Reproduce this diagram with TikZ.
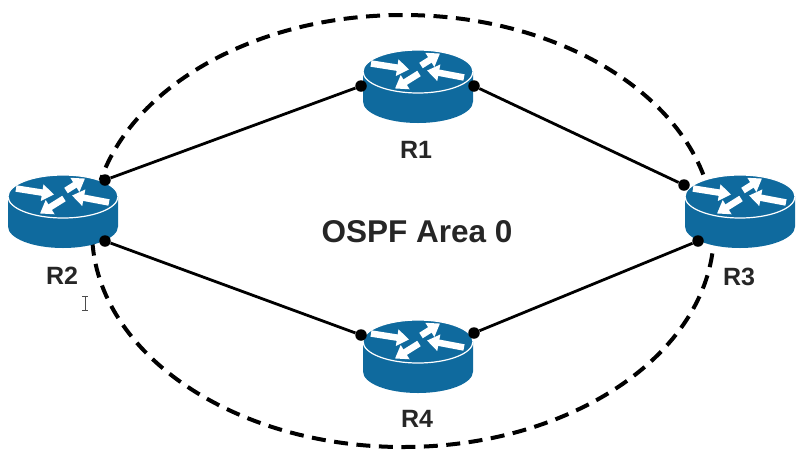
\documentclass[tikz,border=0pt]{standalone}
\usepackage{fontspec}
\setmainfont{Liberation Sans}
\usetikzlibrary{arrows.meta}
\definecolor{routerblue}{HTML}{0F6A9E}
\tikzset{
  x=1pt,y=-1pt,
  port/.style={circle,fill=black,inner sep=0pt,minimum size=11.5pt},
  link/.style={line width=2.8pt,black},
  area/.style={line width=4pt,black,dash pattern=on 14pt off 8.5pt},
  rlabel/.style={font=\bfseries\fontsize{25}{25}\selectfont,text=black!85},
  flow/.style={white,line width=6.5pt,-{Triangle[width=16pt,length=12pt]}},
  router/.pic={
    \fill[routerblue] (-55,0) -- (-55,30) arc[x radius=55,y radius=21.5,start angle=180,end angle=0] -- (55,0) -- cycle;
    \fill[routerblue,draw=white,line width=1.2pt] (0,0) ellipse[x radius=55,y radius=21.5];
    \draw[flow] (-47,-8) -- (-9,-2);
    \draw[flow] (3,-6) -- (22,-18);
    \draw[flow] (46,6) -- (9,-1);
    \draw[flow] (1,2) -- (-23,17);
  }
}
\begin{document}
\begin{tikzpicture}
\useasboundingbox (0,0) rectangle (803,459);
\draw[area] (403,231) ellipse[x radius=311,y radius=216];
\pic (r1) at (418,71.5) {router};
\pic (r2) at (63,196.5) {router};
\pic (r3) at (740,196.5) {router};
\pic (r4) at (418,341.5) {router};
\node[port] (r1w) at (361,86) {};
\node[port] (r1e) at (474,86) {};
\node[port] (r2n) at (105,180) {};
\node[port] (r2s) at (105,241) {};
\node[port] (r3n) at (684,185) {};
\node[port] (r3s) at (698,241) {};
\node[port] (r4w) at (361,335) {};
\node[port] (r4e) at (474,333) {};
\draw[link] (r2n) -- (r1w);
\draw[link] (r1e) -- (r3n);
\draw[link] (r2s) -- (r4w);
\draw[link] (r4e) -- (r3s);
\node[rlabel] (l1) at (416,150) {R1};
\node[rlabel] (l2) at (62,276) {R2};
\node[rlabel] (l3) at (739,277) {R3};
\node[rlabel] (l4) at (417,419) {R4};
\node[font=\bfseries\fontsize{31.5}{31.5}\selectfont,text=black!85] (area0) at (417,232) {OSPF Area 0};
\draw[black!70,line width=.8pt] (82,296) -- (88,296) (85,296) -- (85,310) (82,310) -- (88,310);
\end{tikzpicture}
\end{document}
